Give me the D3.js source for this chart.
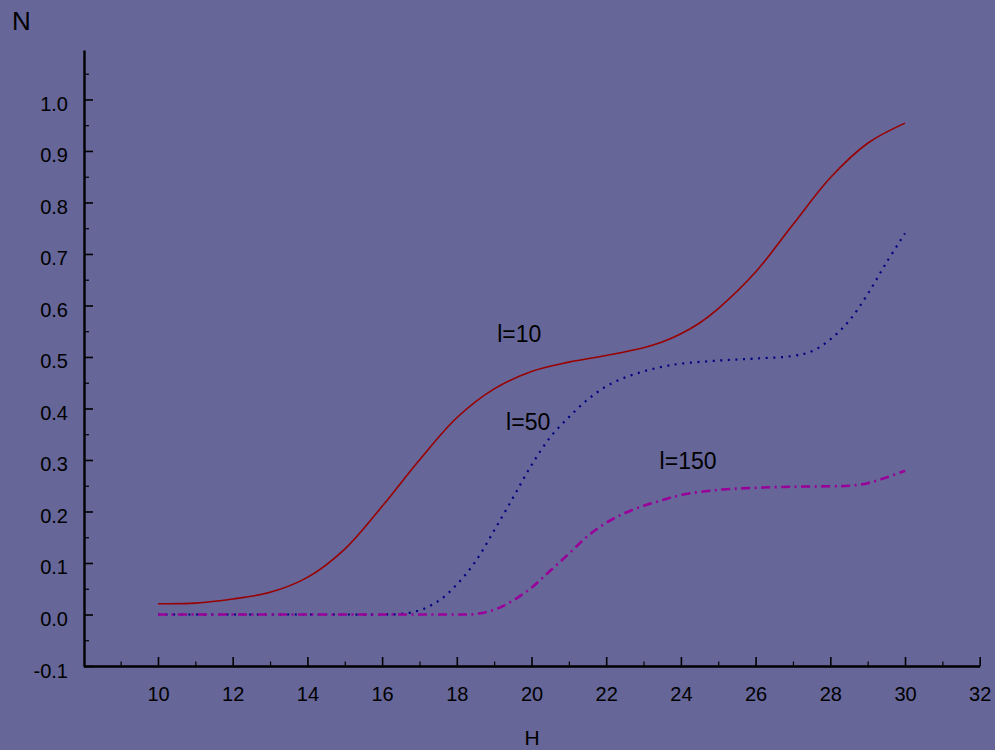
<!DOCTYPE html>
<html>
<head>
<meta charset="utf-8">
<script src="https://cdn.jsdelivr.net/npm/d3@7"></script>
<style>
  html, body { margin: 0; padding: 0; background: #666699; }
  svg { display: block; }
  text { font-family: "Liberation Sans", Arial, Helvetica, sans-serif; fill: #000; }
</style>
</head>
<body>
<svg id="chart" width="995" height="750"></svg>
<script>
// ---- data ----
const H_red = [10, 11, 12, 13, 14, 15, 16, 17, 18, 19, 20, 21, 22, 23, 23.5, 24, 24.5, 25, 26, 27, 28, 29, 30];
const N_l10 = [0.021, 0.022, 0.030, 0.043, 0.072, 0.127, 0.210, 0.300, 0.382, 0.438, 0.472, 0.490, 0.503, 0.518, 0.529, 0.545, 0.566, 0.594, 0.665, 0.757, 0.848, 0.915, 0.954];

const H_blue = [10, 11, 12, 13, 14, 15, 16, 16.5, 17, 17.5, 18, 18.5, 19, 19.5, 20, 20.5, 21, 21.5, 22, 22.5, 23, 23.5, 24, 25, 26, 27, 27.5, 28, 28.5, 29, 29.5, 30];
const N_l50 = [0, 0, 0, 0, 0, 0, 0, 0.001, 0.008, 0.026, 0.058, 0.103, 0.163, 0.226, 0.290, 0.344, 0.383, 0.417, 0.443, 0.460, 0.472, 0.481, 0.487, 0.493, 0.497, 0.502, 0.511, 0.534, 0.570, 0.622, 0.683, 0.740];

const H_mag = [10, 11, 12, 13, 14, 15, 16, 17, 18, 18.5, 19, 19.5, 20, 20.5, 21, 21.5, 22, 22.5, 23, 23.5, 24, 25, 26, 27, 28, 28.5, 29, 29.5, 30];
const N_l150 = [0, 0, 0, 0, 0, 0, 0, 0, 0, 0.001, 0.009, 0.027, 0.052, 0.085, 0.118, 0.152, 0.178, 0.197, 0.211, 0.222, 0.232, 0.242, 0.246, 0.248, 0.249, 0.250, 0.255, 0.266, 0.279];

const xMajorTicks = [10, 12, 14, 16, 18, 20, 22, 24, 26, 28, 30, 32];
const xMinorTicks = [9, 11, 13, 15, 17, 19, 21, 23, 25, 27, 29, 31];
const yMajorTicks = [-0.1, 0.0, 0.1, 0.2, 0.3, 0.4, 0.5, 0.6, 0.7, 0.8, 0.9, 1.0];
const yTickLabels = ["-0.1", "0.0", "0.1", "0.2", "0.3", "0.4", "0.5", "0.6", "0.7", "0.8", "0.9", "1.0"];
const yMinorTicks = [-0.05, 0.05, 0.15, 0.25, 0.35, 0.45, 0.55, 0.65, 0.75, 0.85, 0.95, 1.05];

const seriesNames = ["l=10", "l=50", "l=150"];
const labelPos = [[19.08, 0.529], [19.32, 0.358], [23.43, 0.282]]; // data coords (H, N)

// ---- chart ----
const svg = d3.select("#chart");
const x = d3.scaleLinear().domain([8, 32]).range([83.3, 979.7]);
const y = d3.scaleLinear().domain([-0.1, 1.096]).range([666, 50]);

// minor ticks
svg.append("g").attr("transform", "translate(0,666)")
  .call(d3.axisBottom(x).tickValues(xMinorTicks).tickSize(-4.5).tickFormat(""))
  .call(g => g.select(".domain").remove())
  .call(g => g.selectAll("line").attr("stroke", "#000").attr("stroke-width", 1.2));
svg.append("g").attr("transform", "translate(84,0)")
  .call(d3.axisLeft(y).tickValues(yMinorTicks).tickSize(-5).tickFormat(""))
  .call(g => g.select(".domain").remove())
  .call(g => g.selectAll("line").attr("stroke", "#000").attr("stroke-width", 1.2));

// major x axis
const gx = svg.append("g").attr("transform", "translate(0,666)")
  .call(d3.axisBottom(x).tickValues(xMajorTicks).tickSize(-9).tickSizeOuter(0).tickPadding(21).tickFormat(d3.format("d")));
gx.select(".domain").attr("stroke", "#000").attr("stroke-width", 2.4);
gx.selectAll(".tick line").attr("stroke", "#000").attr("stroke-width", 1.6);
gx.selectAll("text").attr("font-size", 20).attr("fill", "#000")
  .style("font-family", '"Liberation Sans", Arial, sans-serif');

// major y axis
const gy = svg.append("g").attr("transform", "translate(84,0)")
  .call(d3.axisLeft(y).tickValues(yMajorTicks).tickSize(-9).tickSizeOuter(0).tickPadding(16)
    .tickFormat((d, i) => yTickLabels[i]));
gy.select(".domain").attr("stroke", "#000").attr("stroke-width", 2.4);
gy.selectAll(".tick line").attr("stroke", "#000").attr("stroke-width", 1.6);
gy.selectAll("text").attr("font-size", 20).attr("fill", "#000").attr("dy", "0.55em")
  .style("font-family", '"Liberation Sans", Arial, sans-serif');

// axis titles
svg.append("text").attr("x", 12).attr("y", 30).attr("font-size", 26).text("N");
svg.append("text").attr("x", 532).attr("y", 745).attr("font-size", 21).attr("text-anchor", "middle").text("H");

// lines
const line = d3.line().x(d => x(d[0])).y(d => y(d[1])).curve(d3.curveCatmullRom.alpha(0.5));

const red = H_red.map((h, i) => [h, N_l10[i]]);
const blue = H_blue.map((h, i) => [h, N_l50[i]]);
const mag = H_mag.map((h, i) => [h, N_l150[i]]);

svg.append("path").datum(red).attr("d", line)
  .attr("fill", "none").attr("stroke", "#990000").attr("stroke-width", 1.6);
svg.append("path").datum(blue).attr("d", line)
  .attr("fill", "none").attr("stroke", "#000080").attr("stroke-width", 2.2)
  .attr("stroke-dasharray", "2,5.6");
svg.append("path").datum(mag).attr("d", line)
  .attr("fill", "none").attr("stroke", "#990099").attr("stroke-width", 2.6)
  .attr("stroke-dasharray", "9,4.5,2,4.5");

// series labels
svg.selectAll("text.lbl").data(seriesNames).join("text").attr("class", "lbl")
  .attr("x", (d, i) => x(labelPos[i][0]))
  .attr("y", (d, i) => y(labelPos[i][1]))
  .attr("font-size", 23)
  .text(d => d);
</script>
</body>
</html>
